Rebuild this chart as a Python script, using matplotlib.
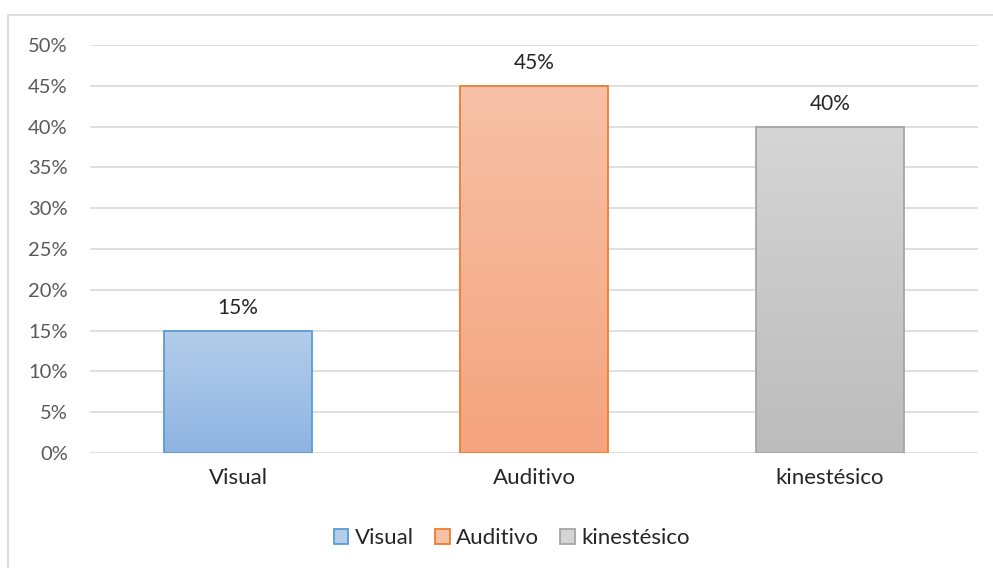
import matplotlib
matplotlib.use("Agg")
import matplotlib.pyplot as plt
import numpy as np
from matplotlib.patches import Rectangle, Patch
from matplotlib.colors import LinearSegmentedColormap
from matplotlib.ticker import PercentFormatter

categories = ["Visual", "Auditivo", "kinestésico"]
values = [15, 45, 40]
top_colors = ["#b3cdea", "#f7c1a7", "#d5d5d5"]
bottom_colors = ["#8fb4e2", "#f4a47e", "#bcbcbc"]
edge_colors = ["#5b9bd5", "#ed7d31", "#a5a5a5"]

plt.rcParams['font.family'] = ['Lato', 'DejaVu Sans']
FS_NUM = 14.5
FS_TXT = 16

fig = plt.figure(figsize=(9.93, 5.68), dpi=100)
ax = fig.add_axes([90/993, 1-453/568, 888/993, 408/568])

x = np.arange(len(categories))
bars = ax.bar(x, values, width=0.5, color="none", edgecolor=edge_colors, linewidth=1.3, zorder=3)
for b, v, tc, bc in zip(bars, values, top_colors, bottom_colors):
    cmap = LinearSegmentedColormap.from_list("g", [bc, tc])
    grad = np.linspace(0, 1, 256).reshape(-1, 1)
    bx, by = b.get_x(), b.get_y()
    w, h = b.get_width(), b.get_height()
    im = ax.imshow(grad, cmap=cmap, extent=[bx, bx + w, by, by + h], origin="lower",
                   aspect="auto", zorder=2)
    im.set_clip_path(b)
    ax.text(bx + w/2, h + 1.6, f"{v}%", ha="center", va="bottom",
            fontsize=15, color="#262626")

ax.set_xlim(-0.5, 2.5)
ax.set_ylim(0, 50)
ax.set_yticks(np.arange(0, 51, 5))
ax.yaxis.set_major_formatter(PercentFormatter(decimals=0))
ax.set_xticks(x)
ax.set_xticklabels(categories)
ax.grid(axis="y", color="#d9d9d9", linewidth=1.2, zorder=0)
for s in ax.spines.values():
    s.set_visible(False)
ax.tick_params(length=0)
ax.tick_params(axis="y", colors="#595959", pad=16, labelsize=FS_NUM)
ax.tick_params(axis="x", colors="#262626", pad=11, labelsize=FS_TXT)

handles = [Patch(facecolor=tc, edgecolor=ec, linewidth=1.3, label=c)
           for c, tc, ec in zip(categories, top_colors, edge_colors)]
leg = fig.legend(handles=handles, loc="center", bbox_to_anchor=(512/993, 1-538/568), ncol=3,
                 frameon=False, fontsize=FS_TXT, handlelength=0.65, handleheight=0.65,
                 handletextpad=0.3, columnspacing=0.95)
for t in leg.get_texts():
    t.set_color("#262626")

fig.patches.append(Rectangle((8/993, -0.1), 1.2, 1 - 15/568 + 0.1, transform=fig.transFigure,
                             fill=False, edgecolor="#d9d9d9", linewidth=1.2))

fig.savefig("out.png", dpi=100)
